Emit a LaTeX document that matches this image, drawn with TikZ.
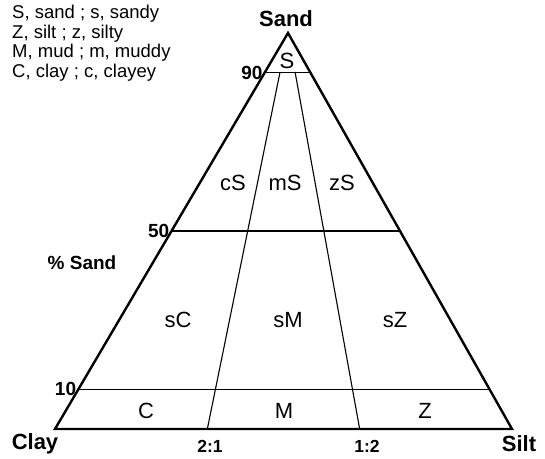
\documentclass[tikz,border=0pt]{standalone}
\usepackage{fontspec}
\setmainfont{Liberation Sans}
\usepackage{tikz}
\usetikzlibrary{calc}
\tikzset{
  rim/.style={line width=2.4pt,line join=miter},
  divline/.style={line width=1.1pt},
  cornerlab/.style={font=\fontsize{22}{25}\selectfont\bfseries,inner sep=0pt},
  ratiolab/.style={font=\fontsize{17.5}{20}\selectfont\bfseries,inner sep=0pt},
  ticklab/.style={font=\fontsize{19}{22}\selectfont\bfseries,anchor=east,inner sep=2pt},
  classlab/.style={font=\fontsize{22}{25}\selectfont,inner sep=0pt},
}

\begin{document}
\begin{tikzpicture}[x=1pt,y=-1pt]
\useasboundingbox (0,0) rectangle (545,458);
\coordinate (clay) at (55,429);
\coordinate (silt) at (512,429);
\coordinate (sand) at (288,33);
\coordinate (r21) at ($(clay)!1/3!(silt)$);
\coordinate (r12) at ($(clay)!2/3!(silt)$);
\coordinate (u21) at ($(r21)!0.9!(sand)$);
\coordinate (u12) at ($(r12)!0.9!(sand)$);
\foreach \p/\f in {90/0.9,50/0.5,10/0.1} {
  \coordinate (l\p) at ($(clay)!\f!(sand)$);
  \coordinate (r\p) at ($(silt)!\f!(sand)$);
  \draw[divline] (l\p) -- (r\p);
  \node[ticklab] (t\p) at (l\p) {\p};
}
\draw[divline] (r21) -- (u21);
\draw[divline] (r12) -- (u12);
\draw[rim] (clay) -- (sand) -- (silt) -- cycle;
\node[cornerlab] (nsand) at (286,19) {Sand};
\node[cornerlab] (nclay) at (35,444) {Clay};
\node[cornerlab] (nsilt) at (519,444) {Silt};
\node[ratiolab] (n21) at (210,446) {2:1};
\node[ratiolab] (n12) at (367,446) {1:2};
\node[ratiolab,font=\fontsize{19}{22}\selectfont\bfseries] (pct) at (82,263) {\% Sand};
\foreach \name/\x/\y in {
  S/287/61,
  cS/233/183, mS/285/183, zS/342/183,
  sC/178/320, sM/288/320, sZ/395/320,
  C/146/411, M/284/411, Z/425/411} {
  \node[classlab] (c\name) at (\x,\y) {\name};
}
\node[anchor=north west,align=left,inner sep=0pt,
  font=\fontsize{18.5}{19.5}\selectfont] (key) at (12,5)
  {S, sand ; s, sandy\\Z, silt ; z, silty\\M, mud ; m, muddy\\C, clay ; c, clayey};
\end{tikzpicture}
\end{document}
